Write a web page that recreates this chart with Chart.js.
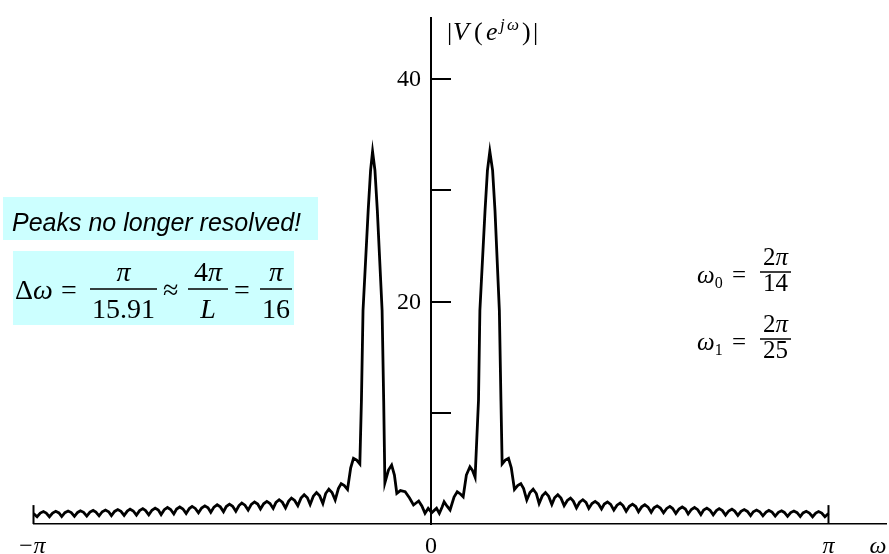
<!DOCTYPE html>
<html>
<head>
<meta charset="utf-8">
<script src="https://cdn.jsdelivr.net/npm/chart.js@4.4.0/dist/chart.umd.min.js"></script>
<style>
  html, body { margin: 0; padding: 0; background: #fff; }
</style>
</head>
<body>
<canvas id="spectrum" width="889" height="554"></canvas>
<script>
// omega in units of pi, |V|
const omegaOverPi = [
  -1.000, -0.991, -0.983, -0.975, -0.968, -0.960, -0.952, -0.944, -0.936, -0.929,
  -0.921, -0.913, -0.905, -0.897, -0.889, -0.882, -0.874, -0.866, -0.858, -0.850,
  -0.843, -0.835, -0.827, -0.819, -0.811, -0.804, -0.796, -0.788, -0.780, -0.772,
  -0.764, -0.757, -0.749, -0.741, -0.733, -0.725, -0.718, -0.710, -0.702, -0.694,
  -0.686, -0.679, -0.671, -0.663, -0.655, -0.647, -0.640, -0.632, -0.624, -0.616,
  -0.608, -0.601, -0.593, -0.585, -0.577, -0.569, -0.561, -0.554, -0.546, -0.538,
  -0.530, -0.522, -0.515, -0.507, -0.499, -0.491, -0.483, -0.476, -0.468, -0.460,
  -0.452, -0.444, -0.436, -0.429, -0.421, -0.413, -0.405, -0.397, -0.390, -0.382,
  -0.374, -0.366, -0.358, -0.351, -0.343, -0.335, -0.327, -0.319, -0.311, -0.304,
  -0.296, -0.288, -0.280, -0.272, -0.265, -0.257, -0.249, -0.241, -0.233, -0.226,
  -0.218, -0.210, -0.202, -0.195, -0.187, -0.179,
  // left main lobe
  -0.175, -0.171, -0.158, -0.152, -0.147, -0.141, -0.135, -0.123, -0.119, -0.116,
  // between the peaks
  -0.107, -0.099, -0.092, -0.086, -0.077, -0.065, -0.054, -0.044, -0.031, -0.023,
  -0.015, -0.007, 0.002, 0.014, 0.021, 0.028, 0.033, 0.040, 0.048, 0.058,
  0.066, 0.074, 0.081, 0.089, 0.098, 0.104, 0.111,
  // right main lobe
  0.1195, 0.123, 0.136, 0.142, 0.148, 0.155, 0.161, 0.172, 0.176, 0.179,
  0.187, 0.195, 0.202, 0.210, 0.218, 0.226, 0.233, 0.241, 0.249, 0.257,
  0.265, 0.272, 0.280, 0.288, 0.296, 0.304, 0.311, 0.319, 0.327, 0.335,
  0.343, 0.351, 0.358, 0.366, 0.374, 0.382, 0.390, 0.397, 0.405, 0.413,
  0.421, 0.429, 0.436, 0.444, 0.452, 0.460, 0.468, 0.476, 0.483, 0.491,
  0.499, 0.507, 0.515, 0.522, 0.530, 0.538, 0.546, 0.554, 0.561, 0.569,
  0.577, 0.585, 0.593, 0.601, 0.608, 0.616, 0.624, 0.632, 0.640, 0.647,
  0.655, 0.663, 0.671, 0.679, 0.686, 0.694, 0.702, 0.710, 0.718, 0.725,
  0.733, 0.741, 0.749, 0.757, 0.764, 0.772, 0.780, 0.788, 0.796, 0.804,
  0.811, 0.819, 0.827, 0.835, 0.843, 0.850, 0.858, 0.866, 0.874, 0.882,
  0.889, 0.897, 0.905, 0.913, 0.921, 0.929, 0.936, 0.944, 0.952, 0.960,
  0.968, 0.975, 0.983, 0.991, 1.000
];
const magnitude = [
  0.95, 0.65, 0.98, 1.12, 0.98, 0.65, 0.99, 1.14, 1.00, 0.67,
  1.02, 1.17, 1.03, 0.69, 1.04, 1.19, 1.05, 0.71, 1.07, 1.22,
  1.07, 0.73, 1.10, 1.26, 1.10, 0.75, 1.13, 1.30, 1.14, 0.77,
  1.16, 1.33, 1.17, 0.80, 1.20, 1.38, 1.21, 0.83, 1.24, 1.43,
  1.25, 0.85, 1.29, 1.48, 1.30, 0.90, 1.34, 1.53, 1.35, 0.95,
  1.39, 1.58, 1.40, 1.00, 1.44, 1.63, 1.45, 1.05, 1.52, 1.73,
  1.54, 1.10, 1.57, 1.78, 1.59, 1.15, 1.66, 1.88, 1.69, 1.25,
  1.76, 1.98, 1.79, 1.35, 1.82, 2.03, 1.84, 1.40, 1.94, 2.18,
  1.96, 1.45, 2.06, 2.33, 2.12, 1.65, 2.33, 2.63, 2.36, 1.75,
  2.50, 2.83, 2.53, 1.85, 2.74, 3.13, 2.83, 2.15, 3.18, 3.63,
  3.45, 3.10, 5.06, 5.90, 5.75, 5.40,
  11.1, 19.2, 28.2, 31.8, 33.5, 31.8, 28.2, 19.2, 11.1, 3.70,
  4.85, 5.30, 4.40, 2.76, 3.01, 2.90, 2.34, 1.71, 2.07, 1.62,
  0.96, 1.41, 1.02, 1.41, 0.96, 1.53, 2.00, 1.62, 1.26, 2.43,
  2.90, 2.70, 2.45, 4.40, 5.15, 4.85, 4.20,
  11.1, 19.2, 28.2, 31.8, 33.5, 31.8, 28.2, 19.2, 11.1, 5.40,
  5.75, 5.90, 5.06, 3.10, 3.45, 3.63, 3.18, 2.15, 2.83, 3.13,
  2.74, 1.85, 2.53, 2.83, 2.50, 1.75, 2.36, 2.63, 2.33, 1.65,
  2.12, 2.33, 2.06, 1.45, 1.96, 2.18, 1.94, 1.40, 1.84, 2.03,
  1.82, 1.35, 1.79, 1.98, 1.76, 1.25, 1.69, 1.88, 1.66, 1.15,
  1.59, 1.78, 1.57, 1.10, 1.54, 1.73, 1.52, 1.05, 1.45, 1.63,
  1.44, 1.00, 1.40, 1.58, 1.39, 0.95, 1.35, 1.53, 1.34, 0.90,
  1.30, 1.48, 1.29, 0.85, 1.25, 1.43, 1.24, 0.83, 1.21, 1.38,
  1.20, 0.80, 1.17, 1.33, 1.16, 0.77, 1.14, 1.30, 1.13, 0.75,
  1.10, 1.26, 1.10, 0.73, 1.07, 1.22, 1.07, 0.71, 1.05, 1.19,
  1.04, 0.69, 1.03, 1.17, 1.02, 0.67, 1.00, 1.14, 0.99, 0.65,
  0.98, 1.12, 0.98, 0.65, 0.95
];

const yTickValues = [10, 20, 30, 40];
const yTickLabels = ['', '20', '', '40'];
const xTickValues = [-1, 0, 1];
const xTickLabels = ['\u2212\u03c0', '0', '\u03c0'];
const edgeMarkHeight = 1.7;

const serif = '"Liberation Serif", "DejaVu Serif", serif';
const sans = '"Liberation Sans", Arial, sans-serif';

// draw a row of [text, font, dy] pieces
function runs(ctx, pieces, x, y, align) {
  let total = 0;
  pieces.forEach(p => { ctx.font = p[1]; total += ctx.measureText(p[0]).width; });
  let cx = align === 'center' ? x - total / 2 : x;
  ctx.textAlign = 'left';
  ctx.textBaseline = 'alphabetic';
  pieces.forEach(p => {
    ctx.font = p[1];
    ctx.fillText(p[0], cx, y + (p[2] || 0));
    cx += ctx.measureText(p[0]).width;
  });
}

function fraction(ctx, num, den, x1, x2, barY, numY, denY) {
  ctx.fillRect(x1, barY - 0.75, x2 - x1, 1.5);
  runs(ctx, num, (x1 + x2) / 2, numY, 'center');
  runs(ctx, den, (x1 + x2) / 2, denY, 'center');
}

const decorations = {
  id: 'decorations',
  afterDraw(chart) {
    const ctx = chart.ctx;
    const xs = chart.scales.x, ys = chart.scales.y;
    const x0 = xs.getPixelForValue(0);
    ctx.save();
    ctx.strokeStyle = '#000';
    ctx.fillStyle = '#000';

    // y ticks to the right of the axis
    ctx.lineWidth = 2;
    yTickValues.forEach((v, i) => {
      const py = Math.round(ys.getPixelForValue(v));
      ctx.beginPath();
      ctx.moveTo(x0, py);
      ctx.lineTo(x0 + 20, py);
      ctx.stroke();
      if (yTickLabels[i]) {
        ctx.font = '24px ' + serif;
        ctx.textAlign = 'right';
        ctx.textBaseline = 'middle';
        ctx.fillText(yTickLabels[i], x0 - 10, py + 1);
      }
    });

    // marks at -pi and pi
    [-1, 1].forEach(v => {
      const px = xs.getPixelForValue(v);
      ctx.beginPath();
      ctx.moveTo(px, ys.getPixelForValue(0));
      ctx.lineTo(px, ys.getPixelForValue(edgeMarkHeight));
      ctx.stroke();
    });

    // x labels
    ctx.textAlign = 'center';
    ctx.textBaseline = 'alphabetic';
    xTickValues.forEach((v, i) => {
      ctx.font = (v === 0 ? '' : 'italic ') + '24px ' + serif;
      ctx.fillText(xTickLabels[i], xs.getPixelForValue(v) - (v === -1 ? 2 : 0), 553);
    });
    ctx.font = 'italic 24px ' + serif;
    ctx.fillText('\u03c9', 878, 553);

    // y axis title |V(e^{jw})|
    const f = '26px ' + serif, fi = 'italic 26px ' + serif, fs = 'italic 17px ' + serif;
    ctx.textAlign = 'left';
    [['|', f, 447, 40], ['V', fi, 453, 40], ['(', f, 474, 40], ['e', fi, 486, 40],
     ['j', fs, 500, 30], ['\u03c9', fs, 507, 30], [')', f, 522, 40], ['|', f, 533, 40]]
      .forEach(p => { ctx.font = p[1]; ctx.fillText(p[0], p[2], p[3]); });

    // note boxes
    ctx.fillStyle = '#ccffff';
    ctx.fillRect(3, 197, 315, 43);
    ctx.fillRect(13, 251, 281, 74);
    ctx.fillStyle = '#000';
    ctx.font = 'italic 25px ' + sans;
    ctx.textAlign = 'left';
    ctx.fillText('Peaks no longer resolved!', 12, 231);

    const m = '28px ' + serif, mi = 'italic 28px ' + serif;
    runs(ctx, [['\u0394', m], ['\u03c9', mi]], 15, 299);
    runs(ctx, [['=', m]], 61, 299);
    fraction(ctx, [['\u03c0', mi]], [['15.91', m]], 90, 157, 289, 281, 318);
    runs(ctx, [['\u2248', m]], 163, 299);
    fraction(ctx, [['4', m], ['\u03c0', mi]], [['L', mi]], 188, 228, 289, 281, 318);
    runs(ctx, [['=', m]], 234, 299);
    fraction(ctx, [['\u03c0', mi]], [['16', m]], 260, 292, 289, 281, 318);

    // frequencies on the right
    const r = '25px ' + serif, ri = 'italic 25px ' + serif, rs = '16px ' + serif;
    runs(ctx, [['\u03c9', ri], ['0', rs, 5]], 697, 283);
    runs(ctx, [['=', r]], 732, 283);
    fraction(ctx, [['2', r], ['\u03c0', ri]], [['14', r]], 760, 791, 272, 265, 291);
    runs(ctx, [['\u03c9', ri], ['1', rs, 5]], 697, 350);
    runs(ctx, [['=', r]], 732, 350);
    fraction(ctx, [['2', r], ['\u03c0', ri]], [['25', r]], 760, 791, 339, 332, 358);

    ctx.restore();
  }
};

const points = omegaOverPi.map((w, i) => ({ x: w, y: magnitude[i] }));

new Chart(document.getElementById('spectrum'), {
  type: 'line',
  data: {
    datasets: [{
      data: points,
      borderColor: '#000',
      borderWidth: 2.8,
      pointRadius: 0,
      tension: 0,
      fill: false
    }]
  },
  options: {
    responsive: false,
    animation: false,
    layout: { padding: { left: 33.5, right: 3, top: 18, bottom: 30 } },
    plugins: { legend: { display: false }, tooltip: { enabled: false } },
    scales: {
      x: {
        type: 'linear',
        min: -1,
        max: 1.1447,
        grid: { display: false, drawTicks: false },
        border: { display: true, color: '#000', width: 1.5 },
        ticks: { display: false }
      },
      y: {
        min: 0,
        max: 45.5,
        position: { x: 0 },
        grid: { display: false, drawTicks: false },
        border: { display: true, color: '#000', width: 2 },
        ticks: { display: false }
      }
    }
  },
  plugins: [decorations]
});
</script>
</body>
</html>
